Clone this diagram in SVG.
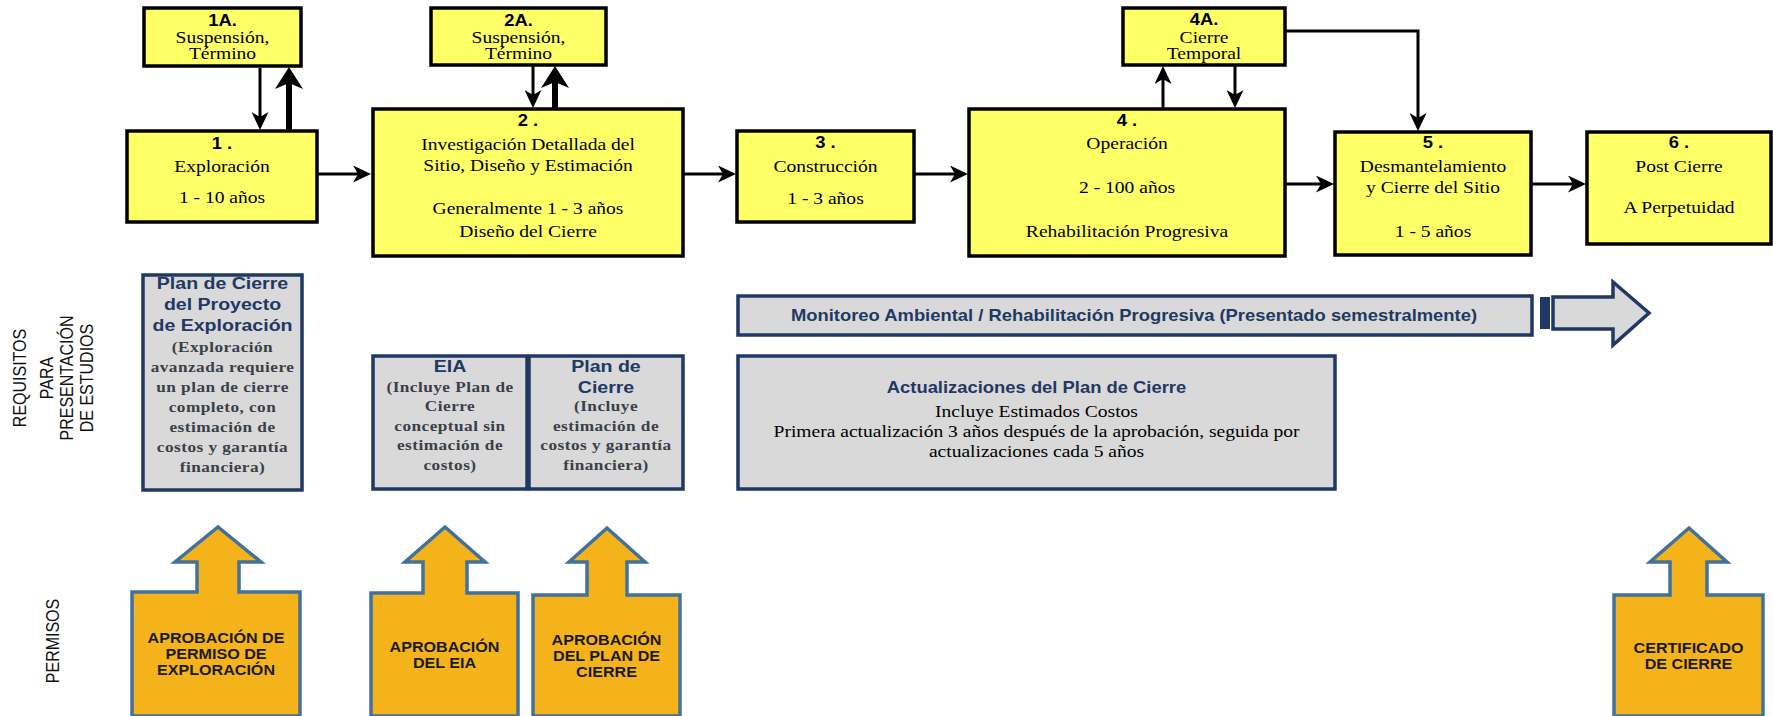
<svg xmlns="http://www.w3.org/2000/svg" width="1773" height="716" viewBox="0 0 1773 716">
<defs>
<style>
.yb{fill:#FFFF66;stroke:#000;stroke-width:3.5}
.gb{fill:#D9D9D9;stroke:#1F3864;stroke-width:3.5}
.ob{fill:#F5B31B;stroke:#41719C;stroke-width:3.5;stroke-linejoin:miter}
.num{font-family:"Liberation Sans",Arial,sans-serif;font-weight:bold;font-size:16px;fill:#000;text-anchor:middle}
.ser{font-family:"Liberation Serif","Times New Roman",serif;font-size:17px;fill:#000;text-anchor:middle}
.ttl{font-family:"Liberation Sans",Arial,sans-serif;font-weight:bold;font-size:17px;fill:#1F3864;text-anchor:middle}
.sb{font-family:"Liberation Serif","Times New Roman",serif;font-weight:bold;font-size:15px;letter-spacing:0.4px;fill:#3A3F4A;text-anchor:middle}
.mon{font-family:"Liberation Sans",Arial,sans-serif;font-weight:bold;font-size:16px;fill:#1F3864;text-anchor:middle}
.ot{font-family:"Liberation Sans",Arial,sans-serif;font-weight:bold;font-size:14px;fill:#1A1A1A;text-anchor:middle}
.vl{font-family:"Liberation Sans",Arial,sans-serif;font-size:16px;fill:#111;text-anchor:middle}
.ln{fill:none;stroke:#000;stroke-width:3}
.lt{fill:none;stroke:#000;stroke-width:6}
</style>
<marker id="ah" markerUnits="userSpaceOnUse" viewBox="0 0 18 17" markerWidth="18" markerHeight="17" refX="10" refY="8.5" orient="auto">
<path d="M0,0 L18,8.5 L0,17 L5,8.5 z" fill="#000"/>
</marker>
<marker id="aht" markerUnits="userSpaceOnUse" viewBox="0 0 22 28" markerWidth="22" markerHeight="28" refX="12" refY="14" orient="auto">
<path d="M0,0 L22,14 L0,28 L6,14 z" fill="#000"/>
</marker>
</defs>
<rect width="1773" height="716" fill="#fff"/>

<g id="connectors">
<line class="ln" x1="260" y1="68" x2="260" y2="122" marker-end="url(#ah)"/>
<line class="lt" x1="289" y1="131" x2="289" y2="77" marker-end="url(#aht)"/>
<line class="ln" x1="317" y1="174" x2="363" y2="174" marker-end="url(#ah)"/>
<line class="ln" x1="533" y1="66" x2="533" y2="100" marker-end="url(#ah)"/>
<line class="lt" x1="555" y1="109" x2="555" y2="76" marker-end="url(#aht)"/>
<line class="ln" x1="684" y1="174" x2="728" y2="174" marker-end="url(#ah)"/>
<line class="ln" x1="915" y1="174" x2="960" y2="174" marker-end="url(#ah)"/>
<line class="ln" x1="1163" y1="108" x2="1163" y2="74" marker-end="url(#ah)"/>
<line class="ln" x1="1235" y1="66" x2="1235" y2="100" marker-end="url(#ah)"/>
<line class="ln" x1="1286" y1="184" x2="1326" y2="184" marker-end="url(#ah)"/>
<line class="ln" x1="1532" y1="184" x2="1578" y2="184" marker-end="url(#ah)"/>
<polyline class="ln" points="1286,31 1418,31 1418,123" marker-end="url(#ah)"/>
</g>

<g id="n1a">
<rect class="yb" x="144" y="8" width="157" height="58"/>
<g transform="translate(222.5 0) scale(1.15 1)">
<text class="num" x="0" y="26">1A.</text>
<text class="ser" x="0" y="43">Suspensión,</text>
<text class="ser" x="0" y="59">Término</text>
</g>
</g>

<g id="n1">
<rect class="yb" x="127" y="131" width="190" height="91"/>
<g transform="translate(222 0) scale(1.15 1)">
<text class="num" x="0" y="149">1 .</text>
<text class="ser" x="0" y="172">Exploración</text>
<text class="ser" x="0" y="203">1 - 10 años</text>
</g>
</g>

<g id="n2a">
<rect class="yb" x="431" y="8" width="175" height="57"/>
<g transform="translate(518.5 0) scale(1.15 1)">
<text class="num" x="0" y="26">2A.</text>
<text class="ser" x="0" y="43">Suspensión,</text>
<text class="ser" x="0" y="59">Término</text>
</g>
</g>

<g id="n2">
<rect class="yb" x="373" y="109" width="310" height="147"/>
<g transform="translate(528 0) scale(1.15 1)">
<text class="num" x="0" y="126">2 .</text>
<text class="ser" x="0" y="150">Investigación Detallada del</text>
<text class="ser" x="0" y="171">Sitio, Diseño y Estimación</text>
<text class="ser" x="0" y="214">Generalmente 1 - 3 años</text>
<text class="ser" x="0" y="237">Diseño del Cierre</text>
</g>
</g>

<g id="n3">
<rect class="yb" x="737" y="131" width="177" height="91"/>
<g transform="translate(825.5 0) scale(1.15 1)">
<text class="num" x="0" y="148">3 .</text>
<text class="ser" x="0" y="172">Construcción</text>
<text class="ser" x="0" y="204">1 - 3 años</text>
</g>
</g>

<g id="n4">
<rect class="yb" x="969" y="109" width="316" height="147"/>
<g transform="translate(1127 0) scale(1.15 1)">
<text class="num" x="0" y="126">4 .</text>
<text class="ser" x="0" y="149">Operación</text>
<text class="ser" x="0" y="193">2 - 100 años</text>
<text class="ser" x="0" y="237">Rehabilitación Progresiva</text>
</g>
</g>

<g id="n4a">
<rect class="yb" x="1123" y="8" width="162" height="57"/>
<g transform="translate(1204 0) scale(1.15 1)">
<text class="num" x="0" y="25">4A.</text>
<text class="ser" x="0" y="43">Cierre</text>
<text class="ser" x="0" y="59">Temporal</text>
</g>
</g>

<g id="n5">
<rect class="yb" x="1335" y="132" width="196" height="123"/>
<g transform="translate(1433 0) scale(1.15 1)">
<text class="num" x="0" y="148">5 .</text>
<text class="ser" x="0" y="172">Desmantelamiento</text>
<text class="ser" x="0" y="193">y Cierre del Sitio</text>
<text class="ser" x="0" y="237">1 - 5 años</text>
</g>
</g>

<g id="n6">
<rect class="yb" x="1587" y="132" width="184" height="112"/>
<g transform="translate(1679 0) scale(1.15 1)">
<text class="num" x="0" y="148">6 .</text>
<text class="ser" x="0" y="172">Post Cierre</text>
<text class="ser" x="0" y="213">A Perpetuidad</text>
</g>
</g>

<g id="lbl-requisitos">
<text class="vl" transform="translate(26 378) scale(1.15 1) rotate(-90)">REQUISITOS</text>
<text class="vl" transform="translate(53 378) scale(1.15 1) rotate(-90)">PARA</text>
<text class="vl" transform="translate(73 378) scale(1.15 1) rotate(-90)">PRESENTACIÓN</text>
<text class="vl" transform="translate(93 378) scale(1.15 1) rotate(-90)">DE ESTUDIOS</text>
</g>

<g id="lbl-permisos">
<text class="vl" transform="translate(59 641) scale(1.15 1) rotate(-90)">PERMISOS</text>
</g>

<g id="plan-exploracion">
<rect class="gb" x="143" y="275" width="159" height="215"/>
<g transform="translate(222.5 0) scale(1.15 1)">
<text class="ttl" x="0" y="289">Plan de Cierre</text>
<text class="ttl" x="0" y="310">del Proyecto</text>
<text class="ttl" x="0" y="331">de Exploración</text>
<text class="sb" x="0" y="352">(Exploración</text>
<text class="sb" x="0" y="372">avanzada requiere</text>
<text class="sb" x="0" y="392">un plan de cierre</text>
<text class="sb" x="0" y="412">completo, con</text>
<text class="sb" x="0" y="432">estimación de</text>
<text class="sb" x="0" y="452">costos y garantía</text>
<text class="sb" x="0" y="472">financiera)</text>
</g>
</g>

<g id="eia">
<rect class="gb" x="373" y="356" width="154" height="133"/>
<g transform="translate(450 0) scale(1.15 1)">
<text class="ttl" x="0" y="372">EIA</text>
<text class="sb" x="0" y="392">(Incluye Plan de</text>
<text class="sb" x="0" y="411">Cierre</text>
<text class="sb" x="0" y="431">conceptual sin</text>
<text class="sb" x="0" y="450">estimación de</text>
<text class="sb" x="0" y="470">costos)</text>
</g>
</g>

<g id="plan-cierre">
<rect class="gb" x="529" y="356" width="154" height="133"/>
<g transform="translate(606 0) scale(1.15 1)">
<text class="ttl" x="0" y="372">Plan de</text>
<text class="ttl" x="0" y="393">Cierre</text>
<text class="sb" x="0" y="411">(Incluye</text>
<text class="sb" x="0" y="431">estimación de</text>
<text class="sb" x="0" y="450">costos y garantía</text>
<text class="sb" x="0" y="470">financiera)</text>
</g>
</g>

<g id="monitoreo">
<rect class="gb" x="738" y="296" width="794" height="39"/>
<g transform="translate(1134 0) scale(1.15 1)">
<text class="mon" x="0" y="321">Monitoreo Ambiental / Rehabilitación Progresiva (Presentado semestralmente)</text>
</g>
</g>

<g id="monitoreo-arrow">
<rect x="1540" y="297" width="10" height="32" fill="#1F3864"/>
<polygon class="gb" points="1553,297 1613,297 1613,282 1649,313 1613,345 1613,329 1553,329"/>
</g>

<g id="actualizaciones">
<rect class="gb" x="738" y="356" width="597" height="133"/>
<g transform="translate(1036.5 0) scale(1.15 1)">
<text class="mon" x="0" y="393">Actualizaciones del Plan de Cierre</text>
<text class="ser" x="0" y="417">Incluye Estimados Costos</text>
<text class="ser" x="0" y="437">Primera actualización 3 años después de la aprobación, seguida por</text>
<text class="ser" x="0" y="457">actualizaciones cada 5 años</text>
</g>
</g>

<g id="permiso-exploracion">
<path class="ob" d="M132,716 L132,592 L197,592 L197,562 L175,562 L218,527 L261,562 L239,562 L239,592 L300,592 L300,716 Z"/>
<g transform="translate(216 0) scale(1.15 1)">
<text class="ot" x="0" y="643">APROBACIÓN DE</text>
<text class="ot" x="0" y="659">PERMISO DE</text>
<text class="ot" x="0" y="675">EXPLORACIÓN</text>
</g>
</g>

<g id="aprobacion-eia">
<path class="ob" d="M371,716 L371,593 L423,593 L423,562 L405,562 L445,527 L485,562 L467,562 L467,593 L518,593 L518,716 Z"/>
<g transform="translate(444.5 0) scale(1.15 1)">
<text class="ot" x="0" y="652">APROBACIÓN</text>
<text class="ot" x="0" y="668">DEL EIA</text>
</g>
</g>

<g id="aprobacion-plan">
<path class="ob" d="M533,716 L533,595 L587,595 L587,562 L569,562 L607,528 L645,562 L627,562 L627,595 L680,595 L680,716 Z"/>
<g transform="translate(606.5 0) scale(1.15 1)">
<text class="ot" x="0" y="645">APROBACIÓN</text>
<text class="ot" x="0" y="661">DEL PLAN DE</text>
<text class="ot" x="0" y="677">CIERRE</text>
</g>
</g>

<g id="certificado">
<path class="ob" d="M1614,716 L1614,595 L1670,595 L1670,562 L1650,562 L1689,528 L1727,562 L1707,562 L1707,595 L1763,595 L1763,716 Z"/>
<g transform="translate(1688.5 0) scale(1.15 1)">
<text class="ot" x="0" y="653">CERTIFICADO</text>
<text class="ot" x="0" y="669">DE CIERRE</text>
</g>
</g>
</svg>
